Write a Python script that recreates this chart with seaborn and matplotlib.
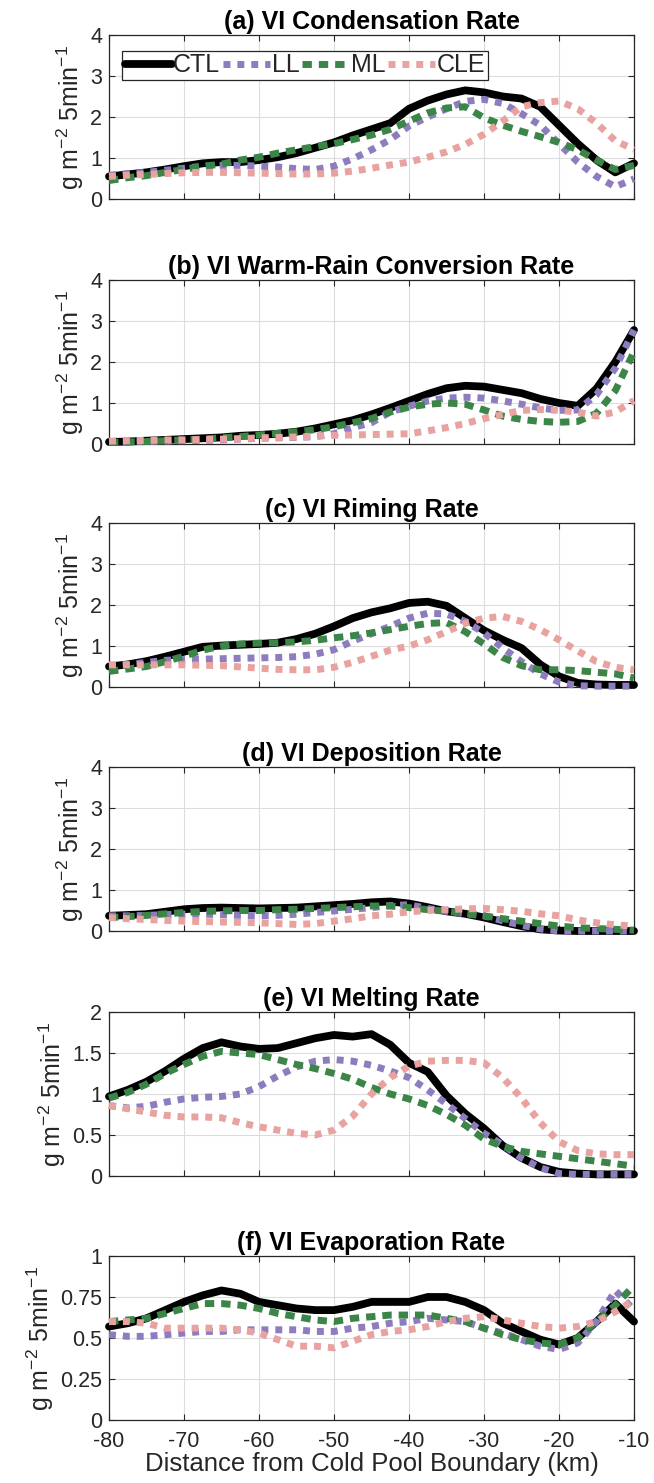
import numpy as np
import pandas as pd
import matplotlib
matplotlib.use("Agg")
import matplotlib.pyplot as plt
import seaborn as sns

# ---------------- data ----------------
x_km = [-80, -77.5, -75, -72.5, -70, -67.5, -65, -62.5, -60, -57.5, -55, -52.5, -50,
        -47.5, -45, -42.5, -40, -37.5, -35, -32.5, -30, -27.5, -25, -22.5, -20,
        -17.5, -15, -12.5, -10]

series_names = ["CTL", "LL", "ML", "CLE"]

titles = ["(a) VI Condensation Rate", "(b) VI Warm-Rain Conversion Rate",
          "(c) VI Riming Rate", "(d) VI Deposition Rate",
          "(e) VI Melting Rate", "(f) VI Evaporation Rate"]

# (a) condensation
cond_ctl = [0.55, 0.60, 0.65, 0.72, 0.80, 0.87, 0.90, 0.90, 0.95, 1.02, 1.12, 1.25, 1.38,
            1.55, 1.70, 1.85, 2.20, 2.40, 2.55, 2.65, 2.60, 2.50, 2.45, 2.25, 1.80,
            1.35, 0.95, 0.65, 0.87]
cond_ll = [0.58, 0.62, 0.65, 0.70, 0.75, 0.80, 0.82, 0.82, 0.80, 0.78, 0.74, 0.72, 0.80,
           0.98, 1.20, 1.45, 1.78, 2.00, 2.20, 2.38, 2.43, 2.33, 2.08, 1.80, 1.35,
           0.90, 0.55, 0.30, 0.49]
cond_ml = [0.45, 0.52, 0.57, 0.65, 0.72, 0.80, 0.85, 0.95, 1.02, 1.12, 1.20, 1.28, 1.35,
           1.45, 1.56, 1.70, 1.90, 2.10, 2.22, 2.25, 1.98, 1.80, 1.65, 1.52, 1.38,
           1.20, 0.95, 0.72, 0.82]
cond_cle = [0.55, 0.58, 0.60, 0.62, 0.64, 0.65, 0.65, 0.64, 0.63, 0.62, 0.61, 0.61, 0.63,
            0.68, 0.75, 0.83, 0.90, 1.02, 1.15, 1.33, 1.58, 1.90, 2.25, 2.35, 2.39,
            2.20, 1.85, 1.42, 1.21]

# (b) warm-rain conversion
warm_ctl = [0.05, 0.06, 0.08, 0.10, 0.12, 0.14, 0.16, 0.20, 0.22, 0.25, 0.30, 0.38, 0.48,
            0.58, 0.72, 0.88, 1.05, 1.22, 1.36, 1.42, 1.40, 1.32, 1.24, 1.10, 1.00,
            0.93, 1.35, 2.00, 2.78]
warm_ll = [0.05, 0.05, 0.06, 0.07, 0.08, 0.09, 0.10, 0.12, 0.14, 0.15, 0.16, 0.18, 0.25,
           0.40, 0.52, 0.78, 0.92, 1.05, 1.12, 1.14, 1.12, 1.05, 0.97, 0.88, 0.82,
           0.83, 1.20, 1.85, 2.78]
warm_ml = [0.04, 0.05, 0.06, 0.08, 0.10, 0.12, 0.15, 0.18, 0.22, 0.26, 0.30, 0.35, 0.42,
           0.52, 0.62, 0.78, 0.90, 0.97, 1.00, 0.97, 0.83, 0.68, 0.60, 0.55, 0.53,
           0.55, 0.75, 1.30, 2.25]
warm_cle = [0.07, 0.08, 0.09, 0.10, 0.10, 0.11, 0.12, 0.13, 0.15, 0.16, 0.17, 0.19, 0.21,
            0.22, 0.23, 0.24, 0.25, 0.32, 0.40, 0.50, 0.62, 0.72, 0.82, 0.84, 0.82,
            0.78, 0.68, 0.78, 1.06]

# (c) riming
rime_ctl = [0.50, 0.55, 0.63, 0.74, 0.86, 0.98, 1.01, 1.03, 1.05, 1.08, 1.17, 1.30, 1.48,
            1.68, 1.82, 1.92, 2.05, 2.08, 1.98, 1.68, 1.38, 1.15, 0.95, 0.55, 0.26,
            0.10, 0.06, 0.05, 0.05]
rime_ll = [0.50, 0.55, 0.60, 0.65, 0.67, 0.68, 0.69, 0.70, 0.71, 0.72, 0.74, 0.80, 0.91,
           1.12, 1.30, 1.48, 1.68, 1.80, 1.78, 1.60, 1.32, 0.95, 0.62, 0.32, 0.12,
           0.03, 0.02, 0.02, 0.02]
rime_ml = [0.38, 0.44, 0.50, 0.62, 0.75, 0.90, 1.00, 1.05, 1.07, 1.08, 1.10, 1.14, 1.20,
           1.25, 1.32, 1.40, 1.48, 1.55, 1.57, 1.35, 1.05, 0.72, 0.52, 0.42, 0.42,
           0.40, 0.36, 0.32, 0.22]
rime_cle = [0.54, 0.54, 0.54, 0.54, 0.54, 0.53, 0.52, 0.49, 0.46, 0.43, 0.42, 0.42, 0.48,
            0.60, 0.75, 0.90, 1.00, 1.15, 1.35, 1.55, 1.68, 1.72, 1.60, 1.40, 1.15,
            0.88, 0.62, 0.48, 0.42]

# (d) deposition
depo_ctl = [0.37, 0.39, 0.41, 0.47, 0.53, 0.56, 0.57, 0.56, 0.55, 0.56, 0.57, 0.60, 0.63,
            0.66, 0.70, 0.72, 0.67, 0.58, 0.48, 0.42, 0.33, 0.22, 0.12, 0.04, 0.01,
            0.00, 0.00, 0.00, 0.00]
depo_ll = [0.37, 0.37, 0.38, 0.40, 0.41, 0.41, 0.40, 0.38, 0.37, 0.38, 0.41, 0.45, 0.49,
           0.53, 0.57, 0.62, 0.64, 0.55, 0.48, 0.42, 0.37, 0.25, 0.14, 0.05, 0.00,
           0.00, 0.00, 0.00, 0.00]
depo_ml = [0.33, 0.35, 0.38, 0.42, 0.45, 0.48, 0.49, 0.50, 0.50, 0.52, 0.53, 0.55, 0.57,
           0.59, 0.61, 0.61, 0.57, 0.52, 0.48, 0.43, 0.37, 0.30, 0.24, 0.18, 0.12,
           0.08, 0.06, 0.04, 0.02]
depo_cle = [0.33, 0.30, 0.28, 0.26, 0.24, 0.23, 0.22, 0.21, 0.20, 0.18, 0.16, 0.18, 0.24,
            0.30, 0.37, 0.41, 0.47, 0.50, 0.52, 0.54, 0.55, 0.52, 0.48, 0.42, 0.37,
            0.27, 0.20, 0.15, 0.12]

# (e) melting
melt_ctl = [0.97, 1.05, 1.15, 1.28, 1.43, 1.56, 1.63, 1.58, 1.55, 1.56, 1.62, 1.68, 1.72,
            1.70, 1.73, 1.60, 1.38, 1.27, 0.98, 0.76, 0.58, 0.37, 0.22, 0.11, 0.05,
            0.03, 0.02, 0.02, 0.02]
melt_ll = [0.86, 0.83, 0.85, 0.90, 0.94, 0.96, 0.97, 1.00, 1.09, 1.22, 1.33, 1.40, 1.42,
           1.40, 1.35, 1.28, 1.20, 1.05, 0.88, 0.70, 0.52, 0.38, 0.22, 0.10, 0.03,
           0.02, 0.02, 0.02, 0.02]
melt_ml = [0.95, 1.02, 1.12, 1.25, 1.36, 1.46, 1.52, 1.50, 1.48, 1.42, 1.36, 1.31, 1.25,
           1.18, 1.08, 1.00, 0.94, 0.86, 0.75, 0.62, 0.45, 0.36, 0.30, 0.27, 0.24,
           0.21, 0.18, 0.15, 0.12]
melt_cle = [0.86, 0.82, 0.78, 0.74, 0.72, 0.72, 0.71, 0.65, 0.60, 0.56, 0.52, 0.50, 0.56,
            0.73, 1.00, 1.20, 1.34, 1.40, 1.41, 1.41, 1.38, 1.20, 0.95, 0.65, 0.42,
            0.31, 0.27, 0.26, 0.26]

# (f) evaporation
evap_ctl = [0.57, 0.59, 0.62, 0.67, 0.72, 0.76, 0.79, 0.77, 0.72, 0.70, 0.68, 0.67, 0.67,
            0.69, 0.72, 0.72, 0.72, 0.75, 0.75, 0.72, 0.67, 0.59, 0.54, 0.49, 0.46,
            0.50, 0.60, 0.71, 0.60]
evap_ll = [0.52, 0.51, 0.51, 0.52, 0.53, 0.54, 0.54, 0.55, 0.55, 0.55, 0.55, 0.54, 0.54,
           0.56, 0.57, 0.59, 0.60, 0.62, 0.61, 0.60, 0.56, 0.53, 0.49, 0.45, 0.43,
           0.47, 0.60, 0.79, 0.67]
evap_ml = [0.60, 0.61, 0.62, 0.65, 0.68, 0.71, 0.71, 0.70, 0.68, 0.65, 0.63, 0.61, 0.60,
           0.62, 0.63, 0.64, 0.64, 0.64, 0.62, 0.60, 0.56, 0.52, 0.49, 0.47, 0.46,
           0.50, 0.60, 0.70, 0.82]
evap_cle = [0.60, 0.60, 0.59, 0.56, 0.56, 0.56, 0.56, 0.55, 0.53, 0.49, 0.45, 0.45, 0.44,
            0.48, 0.52, 0.54, 0.55, 0.57, 0.60, 0.62, 0.63, 0.61, 0.59, 0.57, 0.56,
            0.57, 0.60, 0.66, 0.73]

panel_data = [
    [cond_ctl, cond_ll, cond_ml, cond_cle],
    [warm_ctl, warm_ll, warm_ml, warm_cle],
    [rime_ctl, rime_ll, rime_ml, rime_cle],
    [depo_ctl, depo_ll, depo_ml, depo_cle],
    [melt_ctl, melt_ll, melt_ml, melt_cle],
    [evap_ctl, evap_ll, evap_ml, evap_cle],
]

yticks_main = [0, 1, 2, 3, 4]
yticks_melt = [0, 0.5, 1, 1.5, 2]
yticks_evap = [0, 0.25, 0.5, 0.75, 1]
ytick_labels_main = ["0", "1", "2", "3", "4"]
ytick_labels_melt = ["0", "0.5", "1", "1.5", "2"]
ytick_labels_evap = ["0", "0.25", "0.5", "0.75", "1"]
xticks = [-80, -70, -60, -50, -40, -30, -20, -10]
xtick_labels = ["-80", "-70", "-60", "-50", "-40", "-30", "-20", "-10"]

# ---------------- style ----------------
sns.set_theme(style="white")
plt.rcParams['font.family'] = ['Liberation Sans', 'DejaVu Sans']
plt.rcParams['mathtext.fontset'] = 'custom'
plt.rcParams['mathtext.rm'] = 'Liberation Sans'
plt.rcParams['mathtext.it'] = 'Liberation Sans'
plt.rcParams['mathtext.bf'] = 'Liberation Sans:bold'
plt.rcParams['axes.edgecolor'] = '#262626'
plt.rcParams['axes.linewidth'] = 0.9

colors = ["#000000", "#8E7DBE", "#3C8549", "#E8A2A0"]
styles = ["-", (0, (1, 1)), (0, (1.35, 1)), (0, (1, 1))]
widths = [5.6, 5.0, 5.0, 5.0]

W, H = 654, 1483
fig = plt.figure(figsize=(W / 100, H / 100), dpi=100)

ax_left, ax_right = 109, 634
tops = [35, 280, 523, 767, 1012, 1256]
ax_h = 164

yspecs = [(yticks_main, ytick_labels_main, 4)] * 4 + \
         [(yticks_melt, ytick_labels_melt, 2), (yticks_evap, ytick_labels_evap, 1)]

for i in range(6):
    top = tops[i]
    ax = fig.add_axes([ax_left / W, 1 - (top + ax_h) / H,
                       (ax_right - ax_left) / W, ax_h / H])
    for j, name in enumerate(series_names):
        df = pd.DataFrame({"x": x_km, "y": panel_data[i][j]})
        sns.lineplot(data=df, x="x", y="y", ax=ax, color=colors[j],
                     linestyle=styles[j], linewidth=widths[j], label=name,
                     clip_on=False, zorder=3 + j)
    yt, ytl, ymax = yspecs[i]
    ax.set_xlim(-80, -10)
    ax.set_ylim(0, ymax)
    ax.set_xticks(xticks)
    ax.set_yticks(yt)
    ax.set_yticklabels(ytl)
    if i == 5:
        ax.set_xticklabels(xtick_labels)
        ax.set_xlabel("Distance from Cold Pool Boundary (km)", fontsize=18.5,
                      color='#262626', labelpad=0)
    else:
        ax.set_xticklabels([])
        ax.set_xlabel("")
    ax.set_ylabel(r"g m$^{\mathregular{-2}}$ 5min$^{\mathregular{-1}}$",
                  fontsize=18, color='#262626', labelpad=3)
    ax.grid(True, color='#dcdcdc', linewidth=0.8)
    ax.set_axisbelow(True)
    ax.tick_params(axis='both', direction='in', length=4, width=0.8,
                   labelsize=15.5, colors='#262626', top=True, right=True,
                   bottom=True, left=True)
    ax.tick_params(axis='x', pad=8)
    ax.tick_params(axis='y', pad=5)
    for s in ax.spines.values():
        s.set_visible(True)
        s.set_color('#262626')
    ax.set_title(titles[i], fontsize=18, fontweight='bold', pad=4,
                 color='#000000')
    if i == 0:
        leg = ax.legend(loc='upper left', ncol=4,
                        bbox_to_anchor=((122 - ax_left) / (ax_right - ax_left),
                                        1 - (51 - top) / ax_h),
                        borderaxespad=0, fontsize=18, handlelength=1.9,
                        handletextpad=0.05, columnspacing=0.1, borderpad=0.1,
                        frameon=True, fancybox=False, framealpha=1)
        leg.get_frame().set_edgecolor('#262626')
        leg.get_frame().set_linewidth(0.9)
        leg.set_zorder(10)
    else:
        lg = ax.get_legend()
        if lg is not None:
            lg.remove()

fig.savefig("out.png", dpi=100)
